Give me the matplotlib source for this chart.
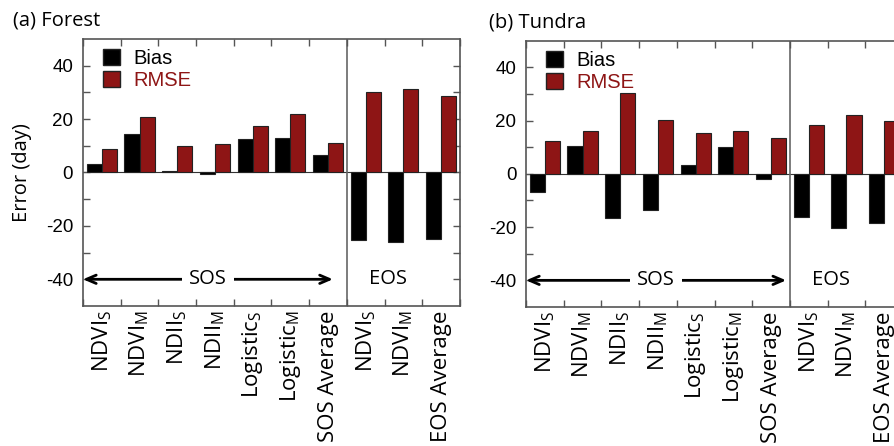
import numpy as np
import matplotlib
matplotlib.use("Agg")
import matplotlib.pyplot as plt
from matplotlib.patches import Patch

plt.rcParams["axes.unicode_minus"] = False
plt.rcParams["mathtext.fontset"] = "custom"
plt.rcParams["mathtext.rm"] = "Open Sans"
plt.rcParams["mathtext.default"] = "regular"

# Categories (x tick labels)
labels = ["NDVI$_S$", "NDVI$_M$", "NDII$_S$", "NDII$_M$", "Logistic$_S$",
          "Logistic$_M$", "SOS Average", "NDVI$_S$", "NDVI$_M$", "EOS Average"]

# (a) Forest
forest_bias = [3.1, 14.5, 0.6, -0.4, 12.4, 13.0, 6.6, -25.4, -26.0, -25.0]
forest_rmse = [8.9, 20.6, 10.0, 10.5, 17.5, 21.9, 11.1, 30.2, 31.2, 28.5]

# (b) Tundra
tundra_bias = [-7.0, 10.6, -16.6, -13.4, 3.5, 10.1, -2.0, -16.1, -20.5, -18.4]
tundra_rmse = [12.4, 16.1, 30.4, 20.2, 15.5, 16.1, 13.3, 18.2, 22.2, 19.8]

RED = "#8e1515"
SPINE = "#555555"
NUM_FONT = "Liberation Sans"
TXT_FONT = "Open Sans"

fig = plt.figure(figsize=(8.94, 4.46), dpi=100)
ax_a = fig.add_axes([0.0928, 0.3139, 0.4217, 0.5987])
ax_b = fig.add_axes([0.5884, 0.3117, 0.4217, 0.5970])


def draw_panel(ax, bias, rmse, sos_right, ylabel=None):
    x = np.arange(len(labels))
    ax.bar(x - 0.2, bias, width=0.4, color="black", edgecolor="#222222", linewidth=0.8, zorder=2)
    ax.bar(x + 0.2, rmse, width=0.4, color=RED, edgecolor="#222222", linewidth=0.8, zorder=2)
    ax.axhline(0, color="#333333", linewidth=0.8, zorder=1)
    ax.axvline(6.5, color="#666666", linewidth=1.2, zorder=1)

    ax.set_xlim(-0.5, len(labels) - 0.5)
    ax.set_ylim(-50, 50)

    ax.set_xticks(np.arange(-0.5, len(labels), 1.0))
    ax.set_xticklabels([])
    ax.set_xticks(x, minor=True)
    ax.set_xticklabels(labels, minor=True, rotation=90, fontsize=16, family=TXT_FONT)
    ax.tick_params(axis="x", which="major", direction="in", length=5, top=True,
                   color=SPINE, width=1)
    ax.tick_params(axis="x", which="minor", length=0, pad=3)

    ax.set_yticks([-40, -20, 0, 20, 40])
    ax.set_yticks([-30, -10, 10, 30], minor=True)
    ax.tick_params(axis="y", which="both", direction="in", length=5, right=True,
                   color=SPINE, width=1, labelsize=13.5, pad=7)
    for t in ax.get_yticklabels():
        t.set_family(NUM_FONT)

    for s in ax.spines.values():
        s.set_color(SPINE)
        s.set_linewidth(1.2)

    # SOS / EOS annotations
    ax.annotate("", xy=(-0.5, -40), xytext=(sos_right, -40),
                arrowprops=dict(arrowstyle="<->,head_length=0.7,head_width=0.3",
                                lw=2, color="black", shrinkA=0, shrinkB=0), zorder=3)
    ax.text((sos_right - 0.5) / 2, -40, "SOS", ha="center", va="center", fontsize=14.5,
            family=TXT_FONT, zorder=4,
            bbox=dict(facecolor="white", edgecolor="none", pad=5))
    ax.text(7.6, -40, "EOS", ha="center", va="center", fontsize=14.5, family=TXT_FONT)

    handles = [Patch(facecolor="black", edgecolor="#222222"),
               Patch(facecolor=RED, edgecolor="#222222")]
    leg = ax.legend(handles, ["Bias", "RMSE"], loc="upper left",
                    bbox_to_anchor=(0.053, 0.9625), frameon=False,
                    handlelength=0.85, handleheight=0.85, handletextpad=0.65,
                    labelspacing=0.15, borderpad=0, borderaxespad=0,
                    prop={"family": NUM_FONT, "size": 14.5})
    leg.get_texts()[1].set_color(RED)

    if ylabel:
        ax.set_ylabel(ylabel, fontsize=14.5, family=TXT_FONT, labelpad=10)


draw_panel(ax_a, forest_bias, forest_rmse, 6.13, ylabel="Error (day)")
draw_panel(ax_b, tundra_bias, tundra_rmse, 6.4)

fig.text(0.0145, 0.955, "(a) Forest", fontsize=14.5, family=TXT_FONT, va="center")
fig.text(0.547, 0.950, "(b) Tundra", fontsize=14.5, family=TXT_FONT, va="center")

fig.savefig("out.png", dpi=100)
